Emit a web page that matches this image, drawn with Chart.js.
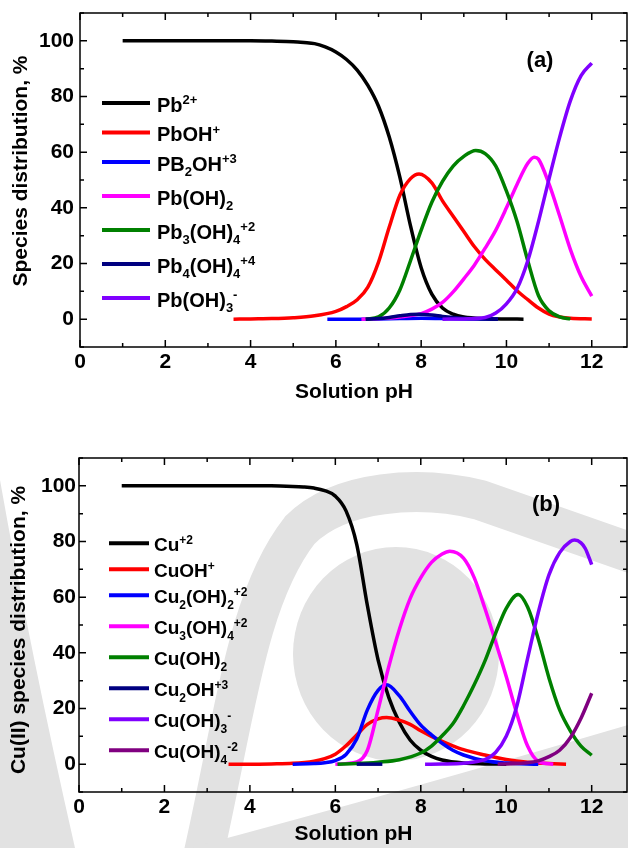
<!DOCTYPE html>
<html>
<head>
<meta charset="utf-8">
<title>Species distribution vs pH</title>
<script src="https://cdn.jsdelivr.net/npm/chart.js@4.4.1/dist/chart.umd.min.js"></script>
<style>
  body { margin: 0; background: #fff; }
  #wrap { position: relative; width: 628px; height: 848px; overflow: hidden; background: #fff; }
  #wrap canvas { position: absolute; left: 0; }
  #bg { top: 0; }
  #chartA { top: 0; }
  #chartB { top: 424px; }
</style>
</head>
<body>
<div id="wrap">
  <canvas id="bg" width="628" height="848"></canvas>
  <canvas id="chartA" width="628" height="424"></canvas>
  <canvas id="chartB" width="628" height="424"></canvas>
</div>
<script>
// axis tick labels (same for both panels)
var phTicks = [0, 2, 4, 6, 8, 10, 12];
var pctTicks = [0, 20, 40, 60, 80, 100];

// ---- panel (a): lead species ----
var pbNames = ["Pb^{2+}", "PbOH^{+}", "PB_{2}OH^{+3}", "Pb(OH)_{2}",
               "Pb_{3}(OH)_{4}^{+2}", "Pb_{4}(OH)_{4}^{+4}", "Pb(OH)_{3}^{-}"];

var pb_pH   = [1, 2, 3, 4, 4.5, 5, 5.25, 5.5, 5.75, 6, 6.25, 6.5, 6.75, 7, 7.25, 7.5, 7.75, 8, 8.25, 8.5, 8.75, 9, 9.5, 10, 10.4];
var pb_pct  = [100, 100, 100, 100, 99.9, 99.7, 99.4, 99, 97.8, 96, 93.3, 89.5, 84, 76.5, 65.5, 51, 33.5, 18.5, 9, 4, 1.8, 0.8, 0.2, 0.05, 0];

var pbOH_pH  = [3.6, 4, 4.5, 5, 5.5, 6, 6.25, 6.5, 6.75, 7, 7.25, 7.5, 7.75, 7.95, 8.25, 8.5, 8.75, 9, 9.25, 9.5, 9.75, 10, 10.25, 10.5, 10.75, 11, 11.25, 11.5, 12];
var pbOH_pct = [0, 0.1, 0.2, 0.5, 1.2, 2.8, 4.5, 7, 11.5, 20.5, 33, 44.5, 50.5, 52.2, 49, 42.5, 37, 31.5, 26, 21.5, 17.7, 14, 10.2, 7, 4, 1.8, 0.8, 0.3, 0.1];

var pb2OH_pH  = [5.8, 6.5, 7, 7.5, 8, 8.5, 9, 9.8];
var pb2OH_pct = [0, 0, 0.1, 0.2, 0.3, 0.2, 0.1, 0];

var pbOH2_pH  = [6.6, 7, 7.5, 8, 8.25, 8.5, 8.75, 9, 9.25, 9.5, 9.75, 10, 10.25, 10.5, 10.65, 10.75, 11, 11.25, 11.5, 11.75, 12];
var pbOH2_pct = [0, 0.2, 0.8, 2, 3.6, 6, 9.8, 14.5, 19.5, 25.5, 32, 40, 48.5, 56, 58.2, 57.5, 48.5, 37, 25, 15.3, 8.3];

var pb3OH4_pH  = [6.7, 7, 7.25, 7.5, 7.75, 8, 8.25, 8.5, 8.75, 9, 9.28, 9.5, 9.75, 10, 10.25, 10.5, 10.75, 11, 11.25, 11.5];
var pb3OH4_pct = [0, 0.8, 4, 10.5, 21, 32, 42, 49.5, 55, 58.5, 60.6, 59.5, 55, 46, 35, 21, 8.5, 3, 0.8, 0.1];

var pb4OH4_pH  = [6.7, 7, 7.25, 7.5, 7.75, 7.95, 8.25, 8.5, 8.75, 9, 9.5, 9.8];
var pb4OH4_pct = [0, 0.2, 0.6, 1.2, 1.7, 1.8, 1.5, 1.0, 0.6, 0.3, 0.05, 0];

var pbOH3_pH  = [8.5, 9, 9.5, 9.75, 10, 10.25, 10.5, 10.75, 11, 11.25, 11.5, 11.75, 12];
var pbOH3_pct = [0, 0.1, 0.6, 2.2, 5.5, 11, 21, 35, 50.5, 65.5, 78.5, 87.5, 92];

// ---- panel (b): copper species ----
var cuNames = ["Cu^{+2}", "CuOH^{+}", "Cu_{2}(OH)_{2}^{+2}", "Cu_{3}(OH)_{4}^{+2}",
               "Cu(OH)_{2}", "Cu_{2}OH^{+3}", "Cu(OH)_{3}^{-}", "Cu(OH)_{4}^{-2}"];

var cu_pH   = [1, 2, 3, 4, 4.5, 5, 5.25, 5.5, 5.75, 6, 6.25, 6.5, 6.75, 7, 7.25, 7.5, 7.75, 8, 8.25, 8.5, 9, 9.5, 10];
var cu_pct  = [100, 100, 100, 100, 100, 99.8, 99.6, 99.2, 98.3, 96.3, 91, 79, 57, 37.5, 24, 15, 8.7, 5, 2.8, 1.5, 0.4, 0.1, 0];

var cuOH_pH  = [3.5, 4, 4.5, 5, 5.5, 5.75, 6, 6.25, 6.5, 6.75, 7, 7.2, 7.5, 7.75, 8, 8.25, 8.5, 8.75, 9, 9.5, 10, 10.5, 11, 11.4];
var cuOH_pct = [0, 0, 0.1, 0.3, 1.1, 2, 3.6, 6.6, 10.5, 14.3, 16.3, 16.8, 15.8, 14.3, 12, 10, 8.2, 6.6, 5.2, 3.3, 1.7, 0.7, 0.2, 0];

var cu2OH2_pH  = [5, 5.5, 5.75, 6, 6.25, 6.5, 6.75, 7, 7.2, 7.5, 7.75, 8, 8.25, 8.5, 8.75, 9, 9.5, 10, 10.75];
var cu2OH2_pct = [0, 0.2, 0.5, 1.3, 3.5, 9, 19.5, 26.5, 28.5, 24.5, 19, 14, 10.5, 7.5, 5, 3.3, 1.2, 0.4, 0];

var cu3OH4_pH  = [6, 6.5, 6.75, 7, 7.25, 7.5, 7.75, 8, 8.25, 8.5, 8.68, 9, 9.25, 9.5, 9.75, 10, 10.25, 10.5, 10.75, 11.1];
var cu3OH4_pct = [0, 0.8, 5, 19.5, 35, 48.5, 59.5, 67, 72.5, 75.5, 76.5, 74, 67, 56, 44, 31.5, 18, 6.5, 1, 0];

var cuOH2_pH  = [6.05, 6.5, 7, 7.5, 8, 8.25, 8.5, 8.75, 9, 9.25, 9.5, 9.75, 10, 10.28, 10.5, 10.75, 11, 11.25, 11.5, 11.75, 12];
var cuOH2_pct = [0, 0.2, 0.7, 1.6, 4, 6.5, 10.2, 14.5, 21, 28.5, 37, 47, 56, 61, 56.5, 45, 31, 19.5, 12, 6.5, 3.2];

var cu2OH_pH  = [6.5, 6.8, 7.1];
var cu2OH_pct = [0, 0, 0];

var cuOH3_pH  = [8.1, 8.5, 9, 9.25, 9.5, 9.75, 10, 10.25, 10.5, 10.75, 11, 11.25, 11.5, 11.6, 11.75, 11.85, 12];
var cuOH3_pct = [0, 0.05, 0.3, 0.8, 1.6, 4.2, 10, 21, 38, 54.5, 68, 76, 80, 80.5, 79.5, 77.5, 71.7];

var cuOH4_pH  = [9.8, 10, 10.5, 10.75, 11, 11.25, 11.5, 11.75, 12];
var cuOH4_pct = [0, 0.1, 0.5, 1.2, 2.7, 5, 9.5, 16.5, 25.5];

var pbColors = ["#000000", "#ff0000", "#0000ff", "#ff00ff", "#008000", "#000080", "#8000ff"];
var cuColors = ["#000000", "#ff0000", "#0000ff", "#ff00ff", "#008000", "#000080", "#8000ff", "#800080"];

var FONT = "'Liberation Sans', Arial, Helvetica, sans-serif";

// faint grey logo behind the lower panel
(function () {
  var g = document.getElementById("bg").getContext("2d");
  g.fillStyle = g.strokeStyle = "#e2e2e2";
  g.beginPath();
  g.ellipse(396, 654, 103, 107, 0, 0, 2 * Math.PI);
  g.fill();
  g.lineWidth = 40;
  g.lineJoin = "round";
  g.beginPath();
  g.moveTo(200, 870);
  g.bezierCurveTo(235, 720, 245, 600, 300, 530);
  g.bezierCurveTo(340, 490, 420, 485, 480, 500);
  g.lineTo(640, 556);
  g.stroke();
  g.beginPath();
  g.moveTo(190, 848);
  g.quadraticCurveTo(400, 792, 628, 725);
  g.lineTo(628, 848);
  g.closePath();
  g.fill();
  g.beginPath();
  g.moveTo(0, 480);
  g.quadraticCurveTo(30, 650, 75, 848);
  g.lineTo(0, 848);
  g.closePath();
  g.fill();
})();

function toPoints(xs, ys) {
  return xs.map(function (x, k) { return { x: x, y: ys[k] }; });
}

function makeSets(series, colors, names) {
  return series.map(function (s, i) {
    return {
      label: names[i],
      data: toPoints(s[0], s[1]),
      borderColor: colors[i],
      backgroundColor: colors[i],
      borderWidth: 3.5,
      pointRadius: 0,
      fill: false,
      cubicInterpolationMode: "monotone",
      order: -i            // later series drawn on top
    };
  });
}

// text with _{sub} and ^{sup} parts
function drawRich(ctx, str, x, y, size) {
  var re = /([_^])\{([^}]*)\}|([^_^]+)/g, m;
  var small = Math.round(size * 0.64);
  while ((m = re.exec(str))) {
    if (m[3]) {
      ctx.font = "bold " + size + "px " + FONT;
      ctx.fillText(m[3], x, y);
      x += ctx.measureText(m[3]).width;
    } else {
      ctx.font = "bold " + small + "px " + FONT;
      var dy = m[1] == "^" ? -size * 0.37 : size * 0.27;
      ctx.fillText(m[2], x, y + dy);
      x += ctx.measureText(m[2]).width;
    }
  }
}

// box around the plot with inward ticks on all four sides, plus y title
var frameTicks = {
  id: "frameTicks",
  afterDraw: function (chart, args, o) {
    var a = chart.chartArea, xs = chart.scales.x, ys = chart.scales.y, ctx = chart.ctx;
    var right = a.right - 1;
    ctx.save();
    ctx.strokeStyle = "#000";
    ctx.lineWidth = 1.5;
    ctx.strokeRect(a.left, a.top, right - a.left, a.bottom - a.top);
    ctx.beginPath();
    for (var v = 0; v <= 12; v++) {
      var px = xs.getPixelForValue(v), len = v % 2 ? 4 : 7;
      ctx.moveTo(px, a.bottom); ctx.lineTo(px, a.bottom - len);
      ctx.moveTo(px, a.top); ctx.lineTo(px, a.top + len);
    }
    for (var w = -10; w <= 110; w += 10) {
      var py = ys.getPixelForValue(w), l2 = w % 20 ? 4 : 7;
      ctx.moveTo(a.left, py); ctx.lineTo(a.left + l2, py);
      ctx.moveTo(right, py); ctx.lineTo(right - l2, py);
    }
    ctx.stroke();

    ctx.translate(o.titleX, (a.top + a.bottom) / 2 + o.titleDY);
    ctx.rotate(-Math.PI / 2);
    ctx.fillStyle = "#000";
    ctx.font = "bold 21px " + FONT;
    ctx.textAlign = "center";
    ctx.textBaseline = "middle";
    ctx.fillText(o.title, 0, 0);
    ctx.restore();
  }
};

// legend block + panel letter, drawn inside the plot area
var speciesLegend = {
  id: "speciesLegend",
  afterDraw: function (chart, args, o) {
    var a = chart.chartArea, ctx = chart.ctx;
    ctx.save();
    ctx.fillStyle = "#000";
    ctx.textBaseline = "alphabetic";
    ctx.textAlign = "left";
    var y = a.top + o.firstY;
    o.names.forEach(function (name, i) {
      ctx.strokeStyle = o.colors[i];
      ctx.lineWidth = 4;
      ctx.beginPath();
      ctx.moveTo(a.left + o.lineX0, y);
      ctx.lineTo(a.left + o.lineX1, y);
      ctx.stroke();
      drawRich(ctx, name, a.left + o.textX, y + o.size * 0.43, o.size);
      y += o.step + (name.indexOf("_{") >= 0 ? o.subStep : 0);
    });
    ctx.font = "bold 22px " + FONT;
    ctx.textAlign = "center";
    ctx.textBaseline = "middle";
    ctx.fillText(o.letter, a.right - o.letterDX, a.top + o.letterDY);
    ctx.restore();
  }
};

function makeOptions(cfg) {
  var tickFont = { family: FONT, size: 21, weight: "bold" };
  return {
    responsive: false,
    animation: false,
    layout: { padding: { top: cfg.padTop, right: 0, bottom: 0, left: 0 } },
    plugins: {
      legend: { display: false },
      tooltip: { enabled: false },
      speciesLegend: cfg.legend,
      frameTicks: { title: cfg.yTitle, titleX: cfg.yTitleX, titleDY: cfg.yTitleDY }
    },
    scales: {
      x: {
        type: "linear",
        min: 0,
        max: 12.85,
        afterBuildTicks: function (s) { s.ticks = phTicks.map(function (v) { return { value: v }; }); },
        afterFit: function (s) { s.height = cfg.xHeight; s.paddingLeft = 0; s.paddingRight = 0; },
        grid: { display: false, drawTicks: false },
        border: { display: false },
        ticks: { color: "#000", padding: 3, font: tickFont },
        title: {
          display: true,
          text: "Solution pH",
          color: "#000",
          padding: { top: 0, bottom: cfg.xTitlePad },
          font: { family: FONT, size: 21, weight: "bold" }
        }
      },
      y: {
        type: "linear",
        min: -10,
        max: 110,
        afterBuildTicks: function (s) { s.ticks = pctTicks.map(function (v) { return { value: v }; }); },
        afterFit: function (s) { s.width = cfg.yWidth; s.paddingTop = 0; s.paddingBottom = 0; },
        grid: { display: false, drawTicks: false },
        border: { display: false },
        ticks: { color: "#000", padding: cfg.yTickPad, font: tickFont }
      }
    }
  };
}

var pbSeries = [
  [pb_pH, pb_pct], [pbOH_pH, pbOH_pct], [pb2OH_pH, pb2OH_pct], [pbOH2_pH, pbOH2_pct],
  [pb3OH4_pH, pb3OH4_pct], [pb4OH4_pH, pb4OH4_pct], [pbOH3_pH, pbOH3_pct]
];
var cuSeries = [
  [cu_pH, cu_pct], [cuOH_pH, cuOH_pct], [cu2OH2_pH, cu2OH2_pct], [cu3OH4_pH, cu3OH4_pct],
  [cuOH2_pH, cuOH2_pct], [cu2OH_pH, cu2OH_pct], [cuOH3_pH, cuOH3_pct], [cuOH4_pH, cuOH4_pct]
];

new Chart(document.getElementById("chartA"), {
  type: "line",
  data: { datasets: makeSets(pbSeries, pbColors, pbNames) },
  options: makeOptions({
    padTop: 13, xHeight: 77, xTitlePad: 19, yWidth: 80, yTickPad: 6,
    yTitle: "Species distribution, %", yTitleX: 21, yTitleDY: -9,
    legend: { names: pbNames, colors: pbColors, lineX0: 22, lineX1: 70, textX: 77,
              firstY: 90, step: 29.5, subStep: 4.5, size: 20, letter: "(a)", letterDX: 88, letterDY: 48 }
  }),
  plugins: [frameTicks, speciesLegend]
});

new Chart(document.getElementById("chartB"), {
  type: "line",
  data: { datasets: makeSets(cuSeries, cuColors, cuNames) },
  options: makeOptions({
    padTop: 34, xHeight: 56, xTitlePad: 1.5, yWidth: 79, yTickPad: 3,
    yTitle: "Cu(II) species distribution, %", yTitleX: 19.5, yTitleDY: 5,
    legend: { names: cuNames, colors: cuColors, lineX0: 30, lineX1: 70, textX: 75,
              firstY: 85.3, step: 26, subStep: 5, size: 19, letter: "(b)", letterDX: 82, letterDY: 47 }
  }),
  plugins: [frameTicks, speciesLegend]
});
</script>
</body>
</html>
